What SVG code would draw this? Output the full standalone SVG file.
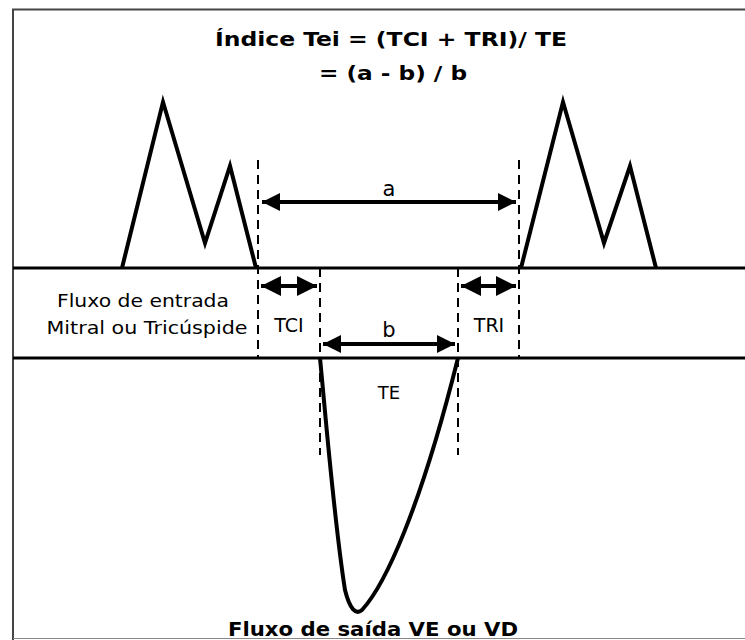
<svg xmlns="http://www.w3.org/2000/svg" width="745" height="640" viewBox="0 0 745 640">
<style>
.t{font-family:"DejaVu Sans",Verdana,sans-serif;fill:#000}
.b{font-family:"DejaVu Sans Condensed","DejaVu Sans",sans-serif;font-weight:bold}
.ln{stroke:#000;stroke-width:3;fill:none}
.pk{stroke:#000;stroke-width:4;fill:none;stroke-linejoin:miter}
.dash{stroke:#000;stroke-width:2;stroke-dasharray:9,6;fill:none}
.arr{stroke:#000;stroke-width:4;fill:none}
</style>
<defs>
<marker id="ah" viewBox="0 0 10 10" refX="10" refY="5" markerWidth="5" markerHeight="4.5" orient="auto-start-reverse" markerUnits="strokeWidth">
<path d="M0,0L10,5L0,10z" fill="#000"/>
</marker>
<marker id="ahs" viewBox="0 0 10 10" refX="10" refY="5" markerWidth="5" markerHeight="5" orient="auto-start-reverse" markerUnits="strokeWidth">
<path d="M0,0L10,5L0,10z" fill="#000"/>
</marker>
</defs>
<rect width="745" height="640" fill="#fff"/>
<g id="frame">
<path d="M13,640V9.5H745" stroke="#444" stroke-width="2" fill="none"/>
<path d="M13,638.5H745" stroke="#888" stroke-width="1" fill="none"/>
</g>
<g id="title">
<text class="t b" x="391" y="46" font-size="20" text-anchor="middle" textLength="352" lengthAdjust="spacingAndGlyphs">Índice Tei = (TCI + TRI)/ TE</text>
<text class="t b" x="393" y="80" font-size="20" text-anchor="middle" textLength="148" lengthAdjust="spacingAndGlyphs">= (a - b) / b</text>
</g>
<g id="baselines">
<line class="ln" x1="13" y1="268" x2="745" y2="268"/>
<line class="ln" x1="13" y1="358" x2="745" y2="358"/>
</g>
<g id="inflow-left">
<path class="pk" d="M122,268L163,102L205,243L230,166L256,268"/>
</g>
<g id="inflow-right">
<path class="pk" d="M521,268L563,102L604,243L630,166L656,268"/>
</g>
<g id="outflow">
<path class="pk" d="M320,358C326,420 334,520 345,590C350,610 356,615 362,610C385,585 420,510 458,358"/>
</g>
<g id="connectors">
<line class="dash" x1="258" y1="160" x2="258" y2="358"/>
<line class="dash" x1="519" y1="160" x2="519" y2="358"/>
<line class="dash" x1="320" y1="268" x2="320" y2="455"/>
<line class="dash" x1="458" y1="268" x2="458" y2="455"/>
<line class="arr" x1="262" y1="202" x2="516" y2="202" marker-start="url(#ah)" marker-end="url(#ah)"/>
<line class="arr" x1="323" y1="344" x2="455" y2="344" marker-start="url(#ah)" marker-end="url(#ah)"/>
<line class="arr" x1="261" y1="286" x2="317" y2="286" stroke-width="3" marker-start="url(#ahs)" marker-end="url(#ahs)"/>
<line class="arr" x1="461" y1="286" x2="516" y2="286" stroke-width="3" marker-start="url(#ahs)" marker-end="url(#ahs)"/>
</g>
<g id="labels">
<text class="t" x="389" y="196" font-size="21" text-anchor="middle">a</text>
<text class="t" x="389" y="337" font-size="21" text-anchor="middle">b</text>
<text class="t" x="289" y="332" font-size="19" text-anchor="middle">TCI</text>
<text class="t" x="489" y="332" font-size="19" text-anchor="middle">TRI</text>
<text class="t" x="389" y="399" font-size="18" text-anchor="middle">TE</text>
<text class="t" x="143" y="307" font-size="17" text-anchor="middle" textLength="172" lengthAdjust="spacingAndGlyphs">Fluxo de entrada</text>
<text class="t" x="147" y="334" font-size="17" text-anchor="middle" textLength="201" lengthAdjust="spacingAndGlyphs">Mitral ou Tricúspide</text>
<text class="t b" x="373" y="636" font-size="20" text-anchor="middle" textLength="290" lengthAdjust="spacingAndGlyphs">Fluxo de saída VE ou VD</text>
</g>
</svg>
